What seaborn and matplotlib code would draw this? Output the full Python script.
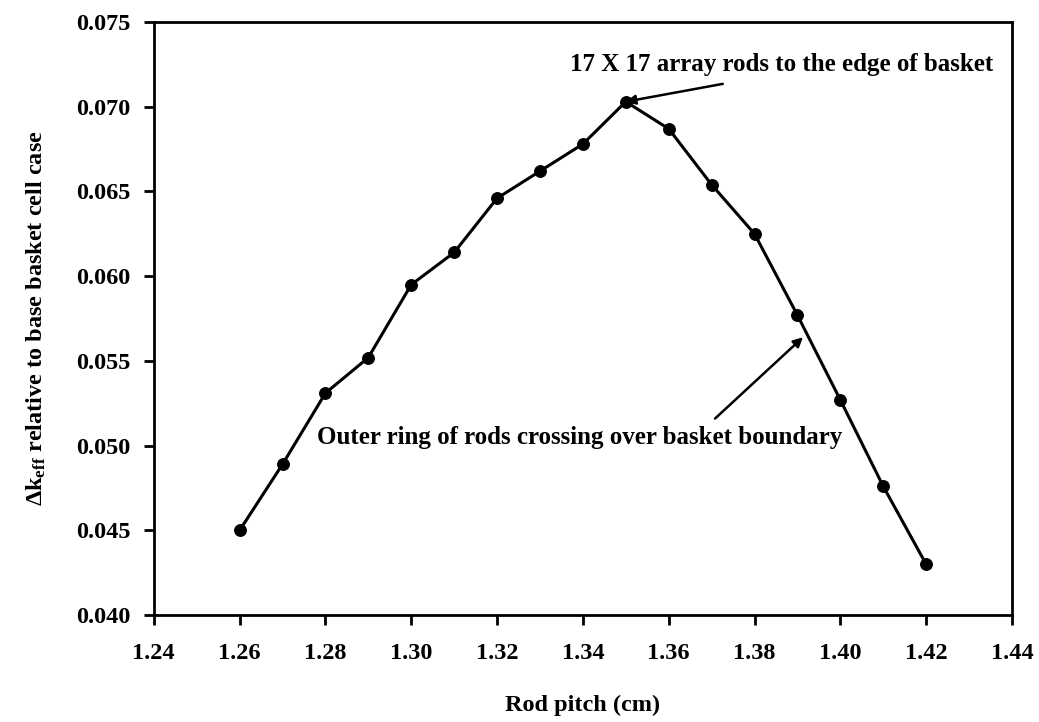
import pandas as pd
import matplotlib
matplotlib.use("Agg")
import matplotlib.pyplot as plt
import seaborn as sns

# Rod pitch (cm) and change in k_eff relative to base basket cell case
rod_pitch = [1.26, 1.27, 1.28, 1.29, 1.30, 1.31, 1.32, 1.33, 1.34,
             1.35, 1.36, 1.37, 1.38, 1.39, 1.40, 1.41, 1.42]
delta_keff = [0.0450, 0.0489, 0.0531, 0.0552, 0.0595, 0.0614, 0.0646, 0.0662, 0.0678,
              0.0703, 0.0687, 0.0654, 0.0625, 0.0577, 0.0527, 0.0476, 0.0430]

x_ticks = [1.24, 1.26, 1.28, 1.30, 1.32, 1.34, 1.36, 1.38, 1.40, 1.42, 1.44]
y_ticks = [0.040, 0.045, 0.050, 0.055, 0.060, 0.065, 0.070, 0.075]

df = pd.DataFrame({"pitch": rod_pitch, "dk": delta_keff})

sns.set_style("ticks")
plt.rcParams["font.family"] = ["Liberation Serif", "DejaVu Serif"]
plt.rcParams["font.weight"] = "bold"
plt.rcParams["axes.labelweight"] = "bold"
plt.rcParams["text.color"] = "black"
plt.rcParams["axes.labelcolor"] = "black"
plt.rcParams["mathtext.fontset"] = "custom"
plt.rcParams["mathtext.rm"] = "Liberation Serif:bold"
plt.rcParams["mathtext.it"] = "Liberation Serif:bold"
plt.rcParams["mathtext.bf"] = "Liberation Serif:bold"

fig, ax = plt.subplots(figsize=(10.39, 7.22), dpi=100)
fig.subplots_adjust(left=0.148, right=0.974, top=0.9695, bottom=0.148)

sns.lineplot(data=df, x="pitch", y="dk", ax=ax, color="black", linewidth=2.2,
             marker="o", markersize=8.5, markeredgecolor="black", markerfacecolor="black")

ax.set_xlim(1.24, 1.44)
ax.set_ylim(0.040, 0.075)
ax.set_xticks(x_ticks)
ax.set_yticks(y_ticks)
ax.set_xticklabels([f"{v:.2f}" for v in x_ticks])
ax.set_yticklabels([f"{v:.3f}" for v in y_ticks])
ax.tick_params(direction="out", length=7, width=2, labelsize=17.5, colors="black")
ax.tick_params(axis="x", pad=13)
ax.tick_params(axis="y", pad=10)
for s in ax.spines.values():
    s.set_visible(True)
    s.set_linewidth(2)
    s.set_color("black")

ax.set_xlabel("Rod pitch (cm)", fontsize=17.5, fontweight="bold", labelpad=22)
ax.set_ylabel(r"$\Delta$k$_{\rm eff}$ relative to base basket cell case",
              fontsize=17.5, fontweight="bold", labelpad=20)

arrow = dict(arrowstyle="-|>", color="black", lw=1.8, shrinkA=0, shrinkB=0, mutation_scale=14)

# arrow to the peak and its label
ax.annotate("", xy=(1.35, 0.0703), xytext=(1.3726, 0.07135), arrowprops=arrow)
ax.text(1.3862, 0.07247, "17 X 17 array rods to the edge of basket",
        fontsize=18, ha="center", va="center")

# arrow to the boundary crossing and its label
ax.annotate("", xy=(1.3913, 0.0564), xytext=(1.3708, 0.0516), arrowprops=arrow)
ax.text(1.3393, 0.0505, "Outer ring of rods crossing over basket boundary",
        fontsize=18, ha="center", va="center")

fig.savefig("out.png", dpi=100)
